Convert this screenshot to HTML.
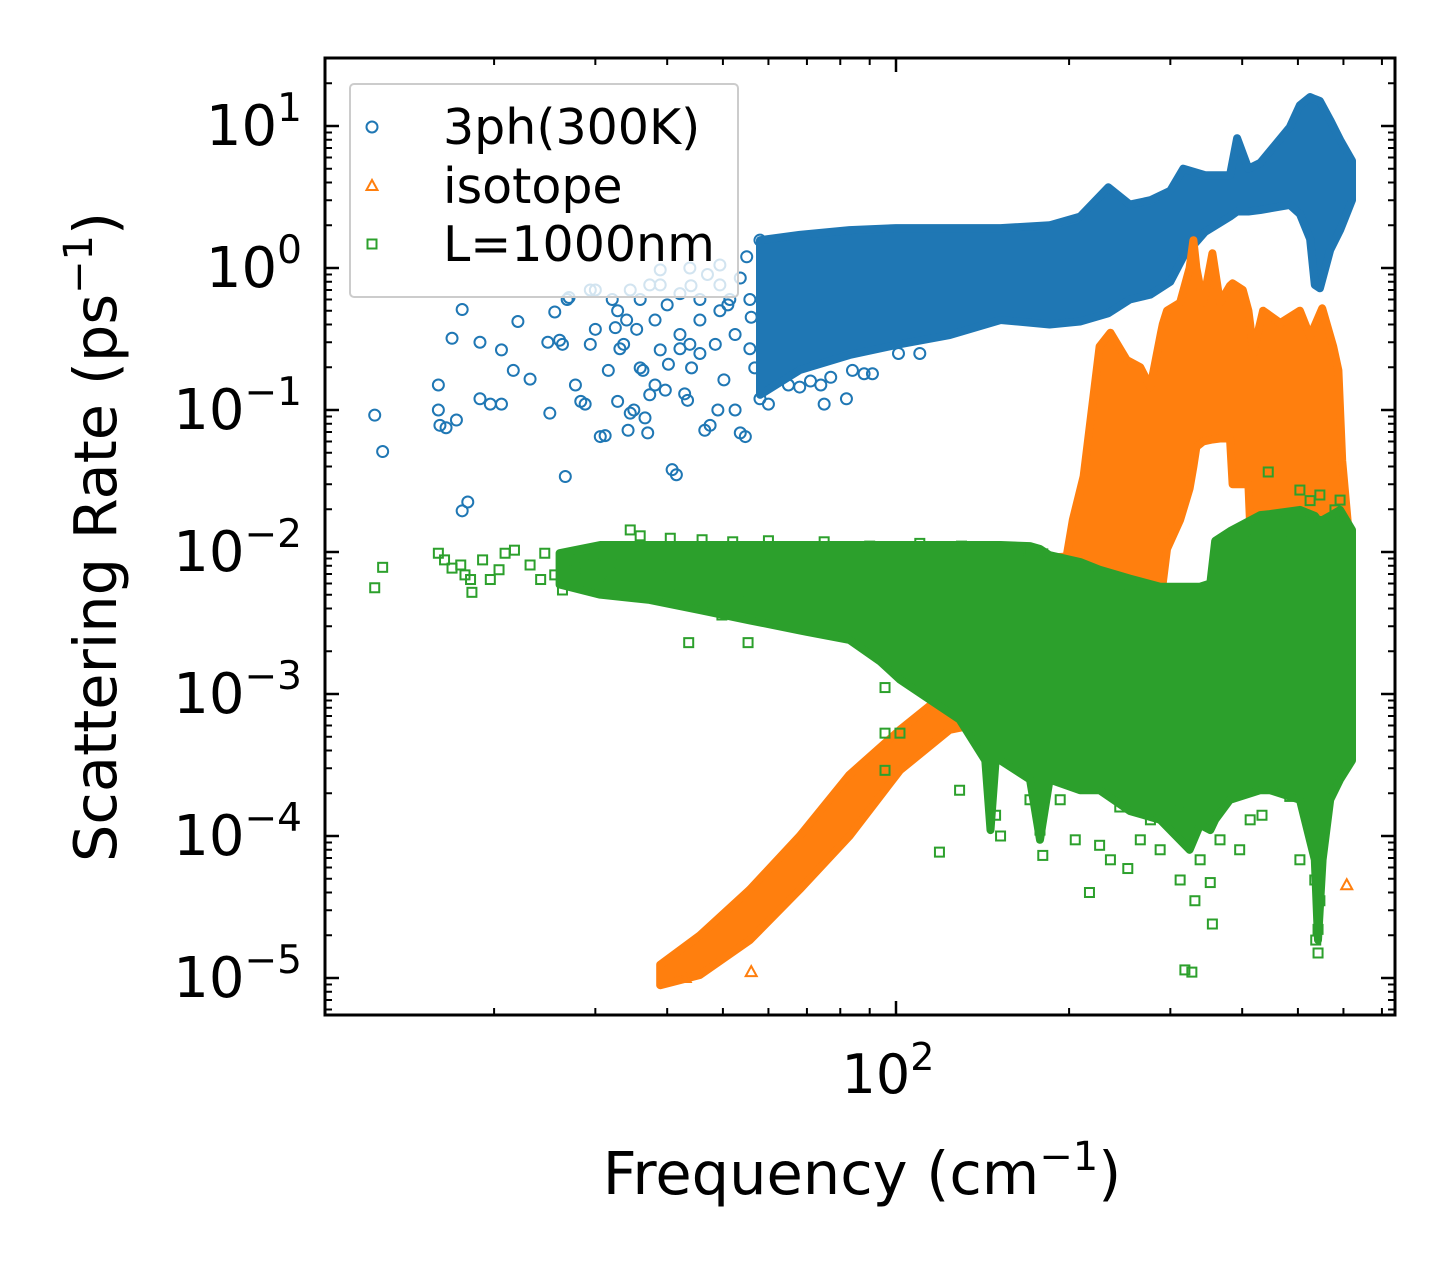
<!DOCTYPE html>
<html><head><meta charset="utf-8"><style>
html,body{margin:0;padding:0;background:#fff;}
svg text{font-family:"DejaVu Sans","Liberation Sans",sans-serif;fill:#000;}
</style></head><body>
<svg id="chart" xmlns="http://www.w3.org/2000/svg" width="1455" height="1265" viewBox="0 0 1455 1265">
<defs><clipPath id="plotclip"><rect x="325" y="58" width="1070" height="957"/></clipPath></defs>
<rect x="0" y="0" width="1455" height="1265" fill="#fff"/>
<g id="marks" clip-path="url(#plotclip)"></g>
<g id="axes"></g>
<g id="legend"></g>
</svg>
<script>
// ---- data ----
const blueF = [58,68,83,100,124,152,185,209,234,255,277,300,316,345,381,392,410,430,484,504,525,535,546,569,592,621];
const blueHi = [1.57,1.71,1.85,1.91,1.91,1.91,2.0,2.3,3.7,2.8,3.0,3.5,5.0,4.5,4.5,8.2,5.0,5.5,9.8,14,16,15.5,15,11,8,5.7];
const blueLo = [0.128,0.191,0.244,0.287,0.337,0.43,0.40,0.42,0.48,0.6,0.65,0.8,1.2,1.8,2.3,2.5,2.5,2.56,2.78,2.4,1.6,0.76,0.72,1.34,1.85,3.0];
const blueScatter = [[12.4,0.092],[12.8,0.051],[16.0,0.15],[16.0,0.10],[16.1,0.078],[16.5,0.075],[17.2,0.085],[16.9,0.32],[17.6,0.51],[17.6,0.0195],[18.0,0.0225],[18.9,0.30],[18.9,0.12],[19.7,0.11],[20.6,0.265],[20.6,0.11],[22.0,0.42],[21.6,0.19],[23.1,0.165],[25.0,0.095],[26.0,0.31],[26.3,0.29],[26.6,0.034],[27.7,0.15],[28.3,0.115],[28.8,0.11],[29.4,0.29],[30.0,0.37],[30.6,0.065],[31.2,0.066],[31.6,0.19],[32.1,0.60],[32.5,0.38],[32.8,0.115],[33.6,0.29],[34.2,0.072],[34.5,0.095],[35.0,0.10],[35.4,0.37],[35.9,0.198],[36.3,0.19],[36.6,0.088],[37.0,0.069],[37.3,0.128],[38.1,0.15],[38.9,0.265],[39.7,0.138],[40.2,0.21],[40.8,0.038],[41.5,0.035],[42.1,0.27],[42.9,0.13],[43.4,0.117],[44.1,0.198],[45.6,0.25],[46.5,0.072],[47.5,0.078],[48.5,0.29],[49.0,0.10],[50.2,0.163],[51.4,0.60],[52.5,0.10],[53.6,0.069],[54.7,0.065],[55.7,0.60],[56.8,0.198],[27.0,0.62],[29.4,0.70],[35.9,0.60],[38.9,0.76],[42.1,0.66],[45.6,0.60],[49.4,0.76],[53.6,0.85],[38.9,0.97],[43.8,1.0],[49.4,1.05],[37.3,0.76],[32.8,0.50],[34.5,0.70],[30.0,0.70],[26.8,0.60],[25.5,0.49],[24.8,0.30],[33.1,0.27],[45.6,0.43],[49.4,0.50],[52.5,0.34],[55.7,0.27],[42.1,0.34],[43.8,0.29],[38.1,0.43],[34.0,0.43],[55.0,1.2],[58.0,1.57],[59,1.4],[61,0.34],[63,0.19],[65,0.15],[68,0.145],[71,0.16],[74,0.15],[77,0.17],[84,0.19],[91,0.18],[101,0.25],[110,0.25],[58,0.12],[60,0.11],[75,0.11],[82,0.12],[88,0.18],[47,0.9],[51,0.55],[56,0.45],[40,0.55],[44,0.75]];

const orangeF = [38.9,45.6,55.7,68,83,101.6,124,152,164,178,198,203,212,226,236,252,266,277,282,289,291,296,312,324,329,333,342,355,366,381,385,401,410,413,418,422,435,466,504,525,551,576,588,597,621];
const orangeHi = [1.24e-5,2.0e-5,4.2e-5,1.0e-4,2.7e-4,5.6e-4,1.07e-3,1.48e-3,3.0e-3,9e-3,9.3e-3,0.0168,0.034,0.28,0.35,0.225,0.2,0.145,0.21,0.35,0.4,0.5,0.57,1.0,1.57,1.0,0.57,1.27,0.57,0.75,0.78,0.7,0.5,0.4,0.25,0.3,0.5,0.41,0.5,0.33,0.52,0.28,0.19,0.044,0.0075];
const orangeLo = [8.9e-6,1.05e-5,1.85e-5,4.2e-5,1.0e-4,2.9e-4,5.6e-4,6.6e-4,6.6e-4,7e-4,7e-4,7e-4,7e-4,7e-4,7e-4,7e-4,7e-4,7e-4,7e-4,7e-4,0.006,0.0105,0.0168,0.028,0.04,0.055,0.06,0.062,0.063,0.063,0.03,0.03,0.03,0.015,0.0065,7e-4,7e-4,7e-4,7e-4,7e-4,7e-4,7e-4,7e-4,7e-4,7e-4];
const orangeScatter = [[608,4.5e-5],[56,1.1e-5],[43,1.0e-5],[150,7e-4],[160,7.5e-4]];

const greenF = [26,30.6,37.3,45.6,55.7,68,83,93.8,101.6,114.6,129,143,146,149,152,171,178,185,209,226,255,288,324,338,352,359,381,430,447,504,535,542,552,569,592,621];
const greenHi = [0.0098,0.0112,0.0112,0.0112,0.0112,0.0112,0.0112,0.0112,0.0112,0.0112,0.0112,0.0112,0.0112,0.0112,0.0112,0.011,0.0105,0.0095,0.0085,0.0075,0.0065,0.0057,0.0057,0.0057,0.006,0.012,0.014,0.0182,0.0185,0.0198,0.018,0.0168,0.0168,0.018,0.0198,0.0143];
const greenLo = [0.0059,0.005,0.0046,0.0039,0.0033,0.0028,0.0024,0.0017,0.00126,9.1e-4,6.6e-4,3.4e-4,1.1e-4,3.4e-4,3.4e-4,2.5e-4,9.4e-5,2.5e-4,2.1e-4,2.1e-4,1.5e-4,1.3e-4,8e-5,1.2e-4,1.1e-4,1.3e-4,1.8e-4,2.1e-4,2.1e-4,1.8e-4,6.8e-5,1.85e-5,6.8e-5,1.8e-4,2.5e-4,3.4e-4];
const greenScatter = [[12.4,0.0056],[12.8,0.0078],[16.0,0.0098],[16.4,0.0088],[16.9,0.0077],[17.5,0.0081],[18.2,0.0064],[18.3,0.0052],[19.1,0.0088],[19.7,0.0064],[20.9,0.0098],[21.7,0.0103],[23.1,0.0081],[24.5,0.0098],[25.5,0.0069],[26.3,0.0054],[27.7,0.0077],[28.8,0.0084],[30.0,0.0095],[31.8,0.0071],[33.1,0.0084],[34.5,0.0143],[35.9,0.013],[38.9,0.0078],[43.6,0.0023],[49.8,0.0036],[55.3,0.0023],[17.8,0.0069],[20.4,0.0075],[24.1,0.0064],[27.0,0.0088],[30.6,0.0059],[37.3,0.0054],[42.1,0.005],[45.6,0.0046],[49.4,0.0048],[53.6,0.0046],[40.5,0.0125],[46,0.0122],[52,0.0118],[60,0.012],[75,0.0118],[90,0.011],[110,0.0115],[130,0.011],[150,0.0108],[170,0.0103],[95.7,0.00111],[95.7,5.3e-4],[95.7,2.9e-4],[101.6,5.3e-4],[119,7.7e-5],[129,2.1e-4],[149,1.4e-4],[152,1.0e-4],[171,1.8e-4],[178,1.1e-4],[180,7.3e-5],[205,9.4e-5],[217,4.0e-5],[226,8.6e-5],[245,1.6e-4],[253,5.9e-5],[277,1.3e-4],[288,8e-5],[300,1.8e-4],[312,4.9e-5],[318,1.14e-5],[327,1.1e-5],[331,3.5e-5],[338,6.8e-5],[352,4.7e-5],[355,2.4e-5],[366,9.4e-5],[396,8e-5],[413,1.3e-4],[433,1.4e-4],[484,1.9e-4],[504,6.8e-5],[535,4.9e-5],[537,1.85e-5],[542,1.5e-5],[542,2.2e-5],[546,3.5e-5],[569,2.1e-4],[604,4.8e-4],[611,9.1e-4],[604,0.0017],[616,0.0028],[312,1.5e-4],[193,1.8e-4],[236,6.8e-5],[266,9.4e-5],[444,0.0366],[504,0.0273],[546,0.0252],[592,0.0232],[484,0.0122],[405,0.0122],[180,0.0097],[164,0.0107],[255,0.005],[580,0.0198],[525,0.023]];

const yTickExps = [-5,-4,-3,-2,-1,0,1];
const xTickLabels = [{v:100,t:"2"}];
const xMinor = [20,30,40,50,60,70,80,90,200,300,400,500,600,700];

// ---- axes functions ----
const X0=325,X1=1395,Y0=58,Y1=1015;
function xs(f){return 896+575*Math.log10(f/100);}
function ys(v){return 268-142*Math.log10(v);}
const NS="http://www.w3.org/2000/svg";
function mk(tag,attrs,parent){const e=document.createElementNS(NS,tag);for(const k in attrs)e.setAttribute(k,attrs[k]);parent.appendChild(e);return e;}
const marks=document.getElementById('marks'),axes=document.getElementById('axes'),legend=document.getElementById('legend');
const C={b:'#1f77b4',o:'#ff7f0e',g:'#2ca02c'};

function band(F,Hi,Lo,color,name){
  let pts=[];
  for(let i=0;i<F.length;i++)pts.push(xs(F[i]).toFixed(1)+','+ys(Hi[i]).toFixed(1));
  for(let i=F.length-1;i>=0;i--)pts.push(xs(F[i]).toFixed(1)+','+ys(Lo[i]).toFixed(1));
  const p=mk('polygon',{points:pts.join(' '),fill:color,stroke:color,'stroke-width':8,'stroke-linejoin':'round'},marks);
  
  
}
function marker(kind,cx,cy,color,parent){
  let e;
  if(kind==='c'){e=mk('circle',{cx:cx,cy:cy,r:5.5,fill:'none',stroke:color,'stroke-width':2},parent);}
  else if(kind==='t'){e=mk('polygon',{points:`${cx},${cy-6} ${cx-5.5},${cy+4} ${cx+5.5},${cy+4}`,fill:'none',stroke:color,'stroke-width':2},parent);}
  else {e=mk('rect',{x:cx-4.5,y:cy-4.5,width:9,height:9,fill:'none',stroke:color,'stroke-width':2},parent);}
  return e;
}
function scatter(arr,kind,color,name){
  const g=mk('g',{},marks);
  
  
  arr.forEach(d=>{const e=marker(kind,xs(d[0]),ys(d[1]),color,g);
    
    });
}
scatter(blueScatter,'c',C.b,'series-3ph-points');
band(blueF,blueHi,blueLo,C.b,'series-3ph-dense');
band(orangeF,orangeHi,orangeLo,C.o,'series-isotope-dense');
scatter(orangeScatter,'t',C.o,'series-isotope-points');
band(greenF,greenHi,greenLo,C.g,'series-L1000nm-dense');
scatter(greenScatter,'s',C.g,'series-L1000nm-points');

// frame
const fr=mk('rect',{x:X0,y:Y0,width:X1-X0,height:Y1-Y0,fill:'none',stroke:'#000','stroke-width':3},axes);


// y ticks
yTickExps.forEach(ex=>{
  const y=ys(Math.pow(10,ex));
  mk('line',{x1:X0,x2:X0+14,y1:y,y2:y,stroke:'#000','stroke-width':2.5},axes);
  mk('line',{x1:X1,x2:X1-14,y1:y,y2:y,stroke:'#000','stroke-width':2.5},axes);
  const t=mk('text',{x:302,y:y+19,'font-size':56,'text-anchor':'end'},axes);
  
  
  t.innerHTML='10<tspan dy="-24" font-size="39">'+(ex<0?'\u2212'+(-ex):ex)+'</tspan>';
});
for(let ex=-6;ex<=1;ex++){for(let m=2;m<=9;m++){
  const y=ys(m*Math.pow(10,ex)); if(y<Y0||y>Y1)continue;
  mk('line',{x1:X0,x2:X0+7,y1:y,y2:y,stroke:'#000','stroke-width':2},axes);
  mk('line',{x1:X1,x2:X1-7,y1:y,y2:y,stroke:'#000','stroke-width':2},axes);
}}
// x ticks
xTickLabels.forEach(d=>{
  const x=xs(d.v);
  mk('line',{x1:x,x2:x,y1:Y1,y2:Y1-14,stroke:'#000','stroke-width':2.5},axes);
  mk('line',{x1:x,x2:x,y1:Y0,y2:Y0+14,stroke:'#000','stroke-width':2.5},axes);
  const t=mk('text',{x:x-8,y:1093,'font-size':54,'text-anchor':'middle'},axes);
  
  
  t.innerHTML='10<tspan dy="-23" font-size="38">'+d.t+'</tspan>';
});
xMinor.forEach(v=>{const x=xs(v);
  mk('line',{x1:x,x2:x,y1:Y1,y2:Y1-7,stroke:'#000','stroke-width':2},axes);
  mk('line',{x1:x,x2:x,y1:Y0,y2:Y0+7,stroke:'#000','stroke-width':2},axes);});
// axis titles
const xt=mk('text',{x:862,y:1194,'font-size':59,'text-anchor':'middle'},axes);


xt.innerHTML='Frequency (cm<tspan dy="-24" font-size="40">\u22121</tspan><tspan dy="24">)</tspan>';
const yt=mk('text',{x:0,y:0,'font-size':59,'text-anchor':'middle',transform:'translate(116,537) rotate(-90)'},axes);


yt.innerHTML='Scattering Rate (ps<tspan dy="-24" font-size="40">\u22121</tspan><tspan dy="24">)</tspan>';

// legend
const lb=mk('rect',{x:350,y:84,width:388,height:213,rx:4,fill:'#fff','fill-opacity':0.8,stroke:'#ccc','stroke-width':2},legend);


const entries=[['c',C.b,'3ph(300K)',127],['t',C.o,'isotope',186],['s',C.g,'L=1000nm',244]];
entries.forEach(e=>{
  const g=mk('g',{},legend);
  
  
  marker(e[0],372,e[3],e[1],g);
  const t=mk('text',{x:443,y:e[3]+17,'font-size':49},g);
  t.textContent=e[2];
});
</script>
</body></html>
